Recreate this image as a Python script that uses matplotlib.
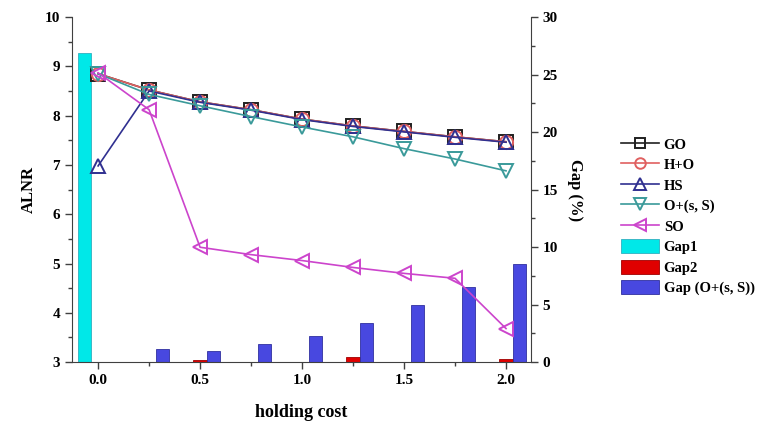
import matplotlib
matplotlib.use("Agg")
import matplotlib.pyplot as plt
import numpy as np
from matplotlib.ticker import MultipleLocator

plt.rcParams['font.family'] = ['Liberation Serif', 'DejaVu Serif']
plt.rcParams['font.weight'] = 'bold'

holding_cost = [0.0, 0.25, 0.5, 0.75, 1.0, 1.25, 1.5, 1.75, 2.0]
GO = [8.85, 8.52, 8.28, 8.12, 7.93, 7.79, 7.68, 7.57, 7.47]
HO = [8.85, 8.52, 8.28, 8.12, 7.93, 7.79, 7.68, 7.57, 7.47]
HS = [6.98, 8.50, 8.27, 8.11, 7.92, 7.78, 7.67, 7.56, 7.46]
OsS = [8.85, 8.43, 8.20, 7.98, 7.77, 7.57, 7.33, 7.12, 6.88]
SO = [8.87, 8.12, 5.33, 5.18, 5.06, 4.92, 4.80, 4.70, 3.68]
gap1 = [26.9, 0, 0, 0, 0, 0, 0, 0, 0]
gap2 = [0, 0, 0.15, 0, 0.05, 0.45, 0, 0, 0.3]
gap_oss = [0, 1.1, 0.95, 1.55, 2.3, 3.4, 4.95, 6.55, 8.5]

fig = plt.figure(figsize=(7.7, 4.26), dpi=100)
ax = fig.add_axes([0.0935, 0.150, 0.596, 0.810])
ax2 = ax.twinx()

x = np.array(holding_cost)
w = 0.065
b1 = ax2.bar(x - w, gap1, width=w, color='#00e8e8', edgecolor='#30b0c0', linewidth=0.6, label='Gap1')
b2 = ax2.bar(x, gap2, width=w, color='#e00000', edgecolor='#a00000', linewidth=0.6, label='Gap2')
b3 = ax2.bar(x + w, gap_oss, width=w, color='#4848e0', edgecolor='#3030a0', linewidth=0.6, label='Gap (O+(s, S))')

ax.set_zorder(ax2.get_zorder() + 1)
ax.patch.set_visible(False)

ms = 9.5
mw = 1.4
l1, = ax.plot(x, GO, '-s', color='#202020', mfc='none', ms=ms, mew=mw, lw=1.2, label='GO')
l2, = ax.plot(x, HO, '-o', color='#e06060', mfc='none', ms=ms, mew=mw, lw=1.2, label='H+O')
l3, = ax.plot(x, HS, '-^', color='#303090', mfc='none', ms=ms+1, mew=mw, lw=1.2, label='HS')
l4, = ax.plot(x, OsS, '-v', color='#3a9a9a', mfc='none', ms=ms+1, mew=mw, lw=1.2, label='O+(s, S)')
l5, = ax.plot(x, SO, '-<', color='#cc44cc', mfc='none', ms=ms+1, mew=mw, lw=1.2, label='SO')

ax.set_xlim(-0.128, 2.122)
ax.set_ylim(3, 10)
ax2.set_ylim(0, 30)

ax.xaxis.set_major_locator(MultipleLocator(0.5))
ax.xaxis.set_minor_locator(MultipleLocator(0.25))
ax.yaxis.set_major_locator(MultipleLocator(1))
ax.yaxis.set_minor_locator(MultipleLocator(0.5))
ax2.yaxis.set_major_locator(MultipleLocator(5))
ax2.yaxis.set_minor_locator(MultipleLocator(2.5))

for a in (ax, ax2):
    a.spines['top'].set_visible(False)
    a.tick_params(which='major', direction='out', length=5, width=1, labelsize=11, color='#404040')
    a.tick_params(which='minor', direction='out', length=3, width=1, color='#404040')
ax.spines['right'].set_visible(False)
for s in ('left', 'bottom'):
    ax.spines[s].set_color('#404040')
ax2.spines['right'].set_color('#404040')
ax2.spines['left'].set_visible(False)
ax2.spines['bottom'].set_visible(False)

ax.set_xticklabels([f'{v:.1f}' for v in ax.get_xticks()], fontweight='bold')
ax.set_xlabel('holding cost', fontsize=13, fontweight='bold', labelpad=12)
ax.set_ylabel('ALNR', fontsize=12, fontweight='bold', labelpad=6)
ax2.set_ylabel('Gap (%)', fontsize=12, fontweight='bold', rotation=270, labelpad=18)
for lab in ax.get_yticklabels() + ax2.get_yticklabels() + ax.get_xticklabels():
    lab.set_fontweight('bold')

handles = [l1, l2, l3, l4, l5, b1, b2, b3]
fig.legend(handles, [h.get_label() for h in handles], loc='upper left',
           bbox_to_anchor=(0.79, 0.71), frameon=False, fontsize=10.5,
           handlelength=2.6, handleheight=1.1, labelspacing=0.38, handletextpad=0.3,
           markerscale=0.8)

fig.savefig('out.png', dpi=100)
